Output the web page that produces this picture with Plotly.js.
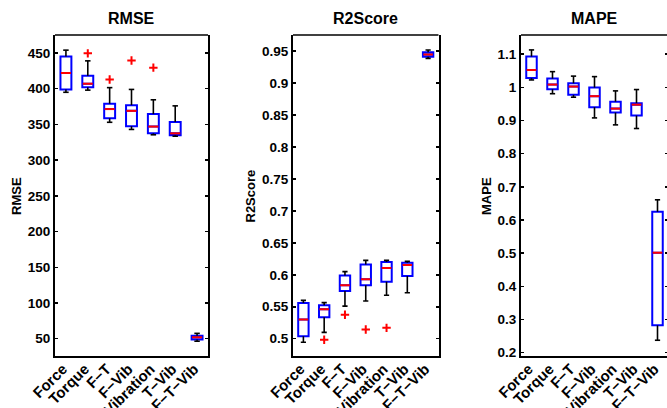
<!DOCTYPE html>
<html>
<head>
<meta charset="utf-8">
<script src="https://cdn.plot.ly/plotly-3.0.1.min.js"></script>
<style>
html,body{margin:0;padding:0;background:#fff;overflow:hidden;width:667px;height:408px;}
#chart{width:670px;height:408px;}
</style>
</head>
<body>
<div id="chart"></div>
<script>
// ---- data ----
const categories = ["Force", "Torque", "F\u2212T", "F\u2212Vib", "Vibration", "T\u2212Vib", "F\u2212T\u2212Vib"];
const positions = [1, 2, 3, 4, 5, 6, 7];

const rmseQ1  = [399, 402, 358.5, 347.5, 337.5, 335, 49];
const rmseMed = [422, 407, 371.5, 369, 347, 337.5, 52];
const rmseQ3  = [445, 418, 379, 377, 364.5, 353.5, 54];
const rmseLo  = [395, 398, 353, 343, 335.5, 333.5, 46.5];
const rmseHi  = [454, 439, 401.5, 399, 384.5, 376, 57.5];
const rmseOutX = [2, 3, 4, 5];
const rmseOutY = [449.5, 413, 439.5, 429.5];

const r2Q1  = [0.504, 0.5335, 0.5745, 0.5835, 0.589, 0.598, 0.941];
const r2Med = [0.530, 0.546, 0.5835, 0.593, 0.6105, 0.6155, 0.9445];
const r2Q3  = [0.556, 0.5525, 0.599, 0.616, 0.620, 0.619, 0.948];
const r2Lo  = [0.4945, 0.510, 0.551, 0.559, 0.568, 0.572, 0.9385];
const r2Hi  = [0.560, 0.5565, 0.605, 0.6225, 0.6225, 0.621, 0.9515];
const r2OutX = [2, 3, 4, 5];
const r2OutY = [0.4985, 0.5375, 0.5145, 0.517];

const mapeQ1  = [1.028, 0.9945, 0.9775, 0.9405, 0.924, 0.915, 0.2825];
const mapeMed = [1.0525, 1.0085, 1.0025, 0.9735, 0.936, 0.948, 0.5015];
const mapeQ3  = [1.093, 1.0265, 1.0125, 0.9995, 0.957, 0.9525, 0.625];
const mapeLo  = [1.0225, 0.981, 0.9705, 0.908, 0.887, 0.876, 0.2375];
const mapeHi  = [1.113, 1.0475, 1.034, 1.0325, 0.9895, 0.9935, 0.661];

const rmseTicks = [50, 100, 150, 200, 250, 300, 350, 400, 450];
const rmseTickText = ["50", "100", "150", "200", "250", "300", "350", "400", "450"];
const r2Ticks = [0.5, 0.55, 0.6, 0.65, 0.7, 0.75, 0.8, 0.85, 0.9, 0.95];
const r2TickText = ["0.5", "0.55", "0.6", "0.65", "0.7", "0.75", "0.8", "0.85", "0.9", "0.95"];
const mapeTicks = [0.2, 0.3, 0.4, 0.5, 0.6, 0.7, 0.8, 0.9, 1.0, 1.1];
const mapeTickText = ["0.2", "0.3", "0.4", "0.5", "0.6", "0.7", "0.8", "0.9", "1", "1.1"];

const titles = ["RMSE", "R2Score", "MAPE"];

// ---- build ----
const BOXW = 0.5, CAPW = 0.25;
const FONT = "Liberation Sans, Arial, Helvetica, sans-serif";

function boxSet(q1, med, q3, lo, hi, outX, outY, xa, ya) {
  const traces = [];
  traces.push({
    type: "box", x: positions, q1: q1, median: med, q3: q3,
    lowerfence: q1, upperfence: q3, width: BOXW, whiskerwidth: 0,
    boxpoints: false, line: {color: "#0000ff", width: 2},
    fillcolor: "rgba(0,0,0,0)", xaxis: xa, yaxis: ya, hoverinfo: "skip", showlegend: false
  });
  const wx = [], wy = [];
  positions.forEach((p, i) => {
    wx.push(p, p, null, p - CAPW / 2, p + CAPW / 2, null, p, p, null, p - CAPW / 2, p + CAPW / 2, null);
    wy.push(q3[i], hi[i], null, hi[i], hi[i], null, q1[i], lo[i], null, lo[i], lo[i], null);
  });
  traces.push({type: "scatter", mode: "lines", x: wx, y: wy, line: {color: "#000", width: 1.6},
    xaxis: xa, yaxis: ya, hoverinfo: "skip", showlegend: false});
  const mx = [], my = [];
  positions.forEach((p, i) => {
    mx.push(p - BOXW / 2 + 0.02, p + BOXW / 2 - 0.02, null);
    my.push(med[i], med[i], null);
  });
  traces.push({type: "scatter", mode: "lines", x: mx, y: my, line: {color: "#ff0000", width: 2},
    xaxis: xa, yaxis: ya, hoverinfo: "skip", showlegend: false});
  if (outX && outX.length) {
    traces.push({type: "scatter", mode: "markers", x: outX, y: outY,
      marker: {symbol: "cross-thin-open", size: 6, color: "#ff0000", line: {color: "#ff0000", width: 2}},
      xaxis: xa, yaxis: ya, hoverinfo: "skip", showlegend: false});
  }
  return traces;
}

const data = [].concat(
  boxSet(rmseQ1, rmseMed, rmseQ3, rmseLo, rmseHi, rmseOutX, rmseOutY, "x", "y"),
  boxSet(r2Q1, r2Med, r2Q3, r2Lo, r2Hi, r2OutX, r2OutY, "x2", "y2"),
  boxSet(mapeQ1, mapeMed, mapeQ3, mapeLo, mapeHi, null, null, "x3", "y3")
);

const W = 670, H = 408;
const yDom = [1 - 356 / H, 1 - 35 / H];
const xDoms = [[55 / W, 208 / W], [293 / W, 438.5 / W], [521 / W, 668 / W]];

function xaxis(dom) {
  return {
    domain: dom, range: [0.5, 7.5], tickmode: "array", tickvals: positions, ticktext: categories,
    tickangle: -45, ticks: "", showline: true, linewidth: 2.4, linecolor: "#000", mirror: false,
    showgrid: false, zeroline: false, fixedrange: true, ticklabelstandoff: -4, ticklabelshift: -3,
    tickfont: {family: FONT, size: 15, color: "#000", weight: "bold"}
  };
}
function yaxis(anchor, range, tv, tt) {
  return {
    domain: yDom, range: range, anchor: anchor, tickmode: "array", tickvals: tv, ticktext: tt,
    ticks: "inside", ticklen: 3, tickwidth: 1.5, tickcolor: "#000",
    showline: true, linewidth: 2, linecolor: "#000", mirror: "ticks",
    showgrid: false, zeroline: false, fixedrange: true,
    tickfont: {family: FONT, size: 13.5, color: "#000", weight: "bold"}
  };
}

const annotations = [];
const titleX = [(55 + 208) / 2, (293 + 438.5) / 2, (521 + 668) / 2];
titles.forEach((t, i) => {
  annotations.push({text: t, xref: "paper", yref: "paper", x: titleX[i] / W, y: 1 - 18.5 / H,
    xanchor: "center", yanchor: "middle", showarrow: false,
    font: {family: FONT, size: 16, color: "#000", weight: "bold"}});
});
const ytX = [16, 249.5, 486];
titles.forEach((t, i) => {
  annotations.push({text: t, xref: "paper", yref: "paper", x: ytX[i] / W, y: 1 - 196 / H,
    xanchor: "center", yanchor: "middle", textangle: -90, showarrow: false,
    font: {family: FONT, size: 13, color: "#000", weight: "bold"}});
});

const shapes = ["x", "x2", "x3"].map(xa => ({
  type: "line", xref: xa + " domain", yref: (xa === "x" ? "y" : "y" + xa.slice(1)) + " domain",
  x0: 0, x1: 1, y0: 1, y1: 1, line: {color: "#000", width: 1.3}
}));

const layout = {
  width: W, height: H, margin: {l: 0, r: 0, t: 0, b: 0},
  paper_bgcolor: "#fff", plot_bgcolor: "#fff", showlegend: false,
  font: {family: FONT, color: "#000"},
  xaxis: Object.assign(xaxis(xDoms[0]), {anchor: "y"}),
  xaxis2: Object.assign(xaxis(xDoms[1]), {anchor: "y2"}),
  xaxis3: Object.assign(xaxis(xDoms[2]), {anchor: "y3"}),
  yaxis: yaxis("x", [25.8, 475.2], rmseTicks, rmseTickText),
  yaxis2: yaxis("x2", [0.473, 0.975], r2Ticks, r2TickText),
  yaxis3: yaxis("x3", [0.19, 1.158], mapeTicks, mapeTickText),
  annotations: annotations, shapes: shapes
};

Plotly.newPlot("chart", data, layout, {staticPlot: true, displayModeBar: false});
</script>
</body>
</html>
